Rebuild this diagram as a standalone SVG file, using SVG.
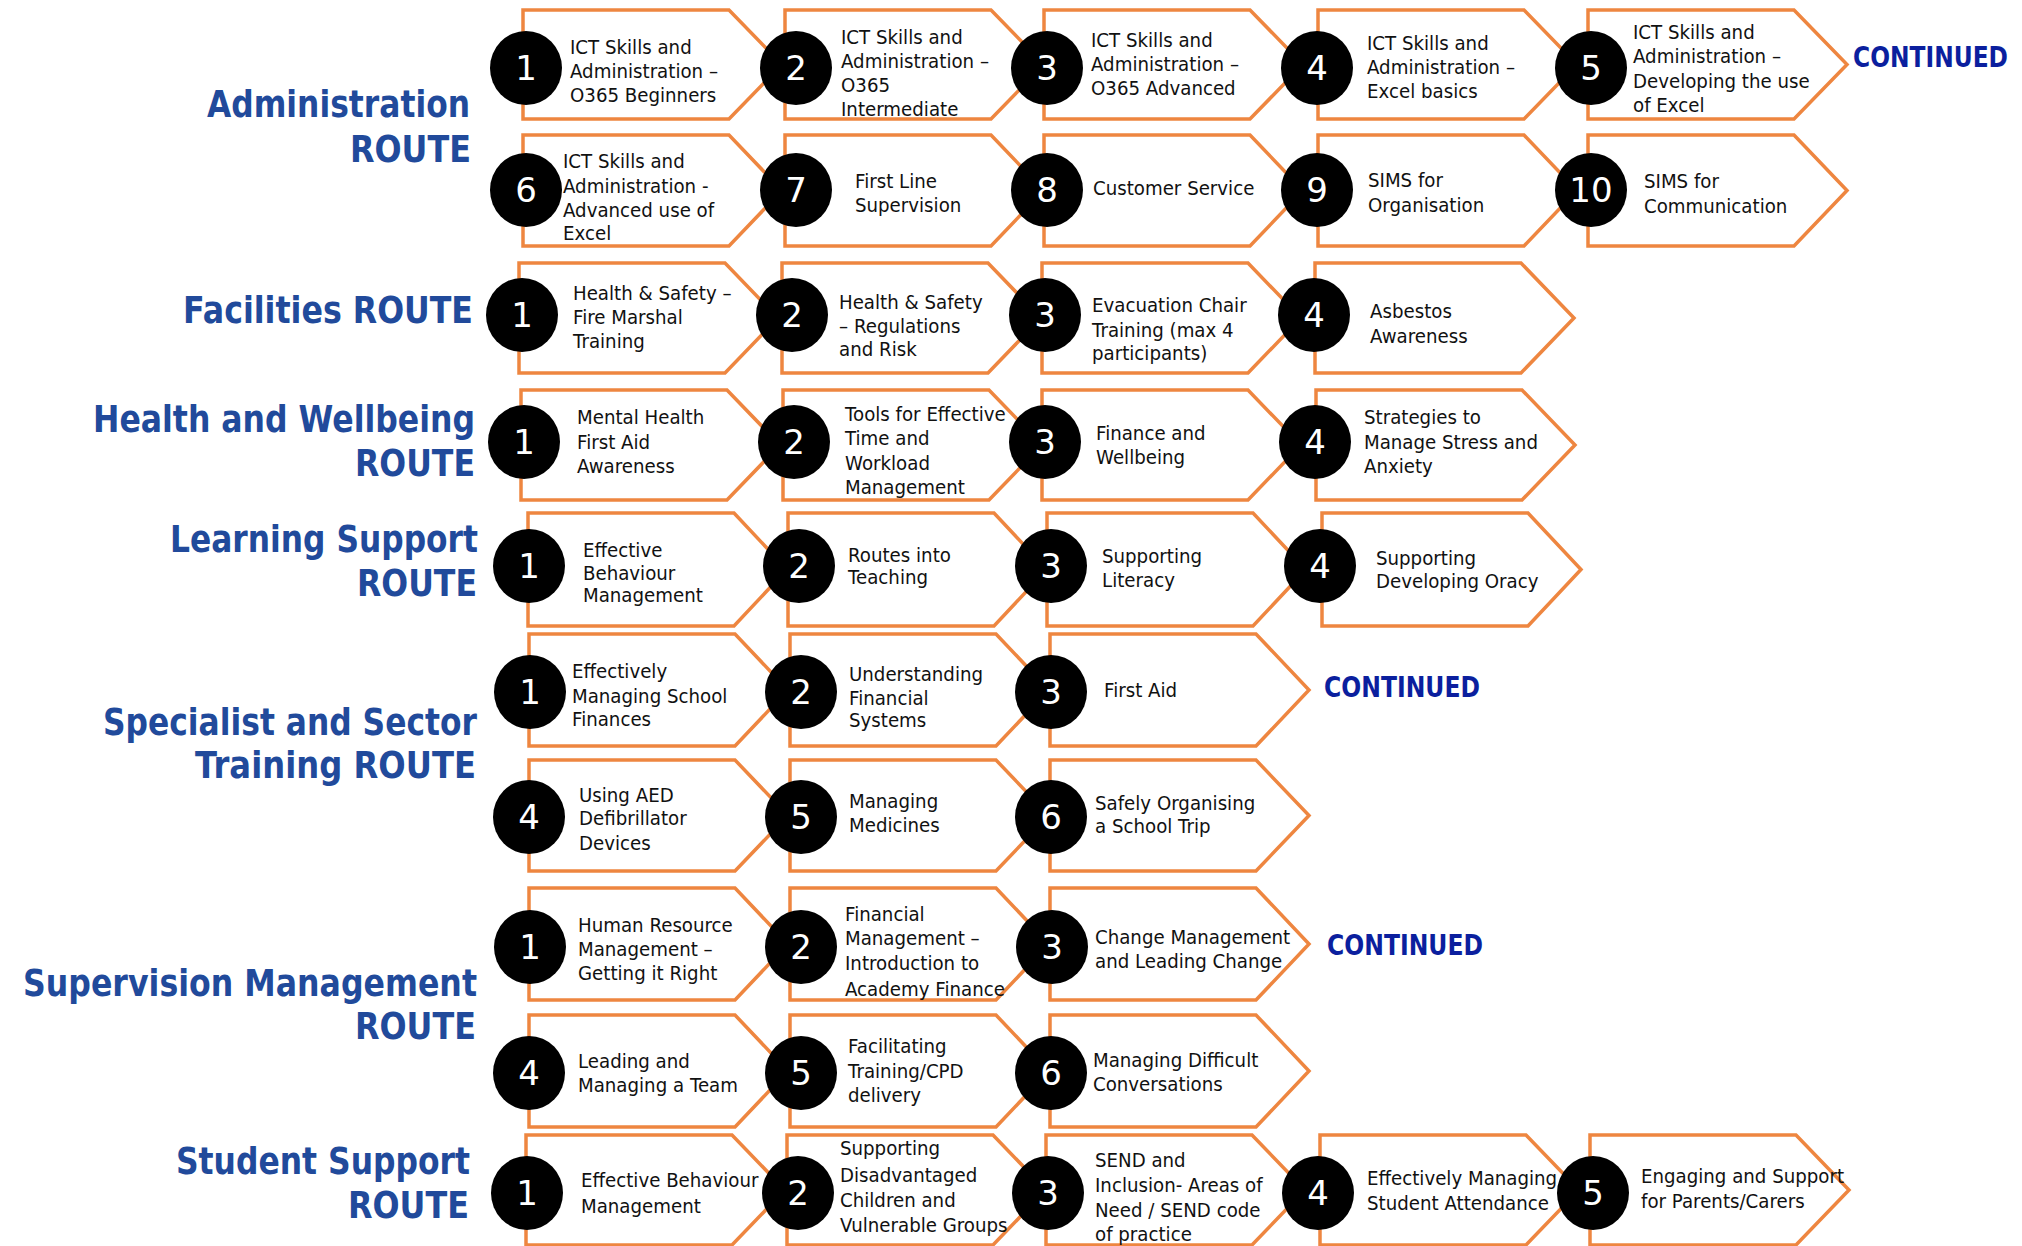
<svg xmlns="http://www.w3.org/2000/svg" width="2022" height="1246" viewBox="0 0 2022 1246">
<style>
.ch{fill:#fff;stroke:#EE8640;stroke-width:3.5;stroke-linejoin:miter}
.c{fill:#000}
.n{font-family:"DejaVu Sans","Liberation Sans",sans-serif;font-size:34px;fill:#fff;text-anchor:middle}
.t{font-family:"DejaVu Sans","Liberation Sans",sans-serif;font-size:20px;fill:#111}
.lb{font-family:"DejaVu Sans","Liberation Sans",sans-serif;font-weight:bold;font-size:37px;fill:#214A9B}
.ct{font-family:"DejaVu Sans","Liberation Sans",sans-serif;font-weight:bold;font-size:28px;fill:#0B1F9E}
</style>
<rect width="2022" height="1246" fill="#fff"/>
<g id="labels">
<text class="lb" transform="translate(207 0) scale(.86 1)" x="0" y="117" textLength="305.8" lengthAdjust="spacingAndGlyphs">Administration</text>
<text class="lb" transform="translate(350 0) scale(.86 1)" x="0" y="162" textLength="140.7" lengthAdjust="spacingAndGlyphs">ROUTE</text>
<text class="lb" transform="translate(183 0) scale(.86 1)" x="0" y="323" textLength="337.2" lengthAdjust="spacingAndGlyphs">Facilities ROUTE</text>
<text class="lb" transform="translate(93 0) scale(.86 1)" x="0" y="432" textLength="444.2" lengthAdjust="spacingAndGlyphs">Health and Wellbeing</text>
<text class="lb" transform="translate(355 0) scale(.86 1)" x="0" y="476" textLength="139.5" lengthAdjust="spacingAndGlyphs">ROUTE</text>
<text class="lb" transform="translate(170 0) scale(.86 1)" x="0" y="552" textLength="358.1" lengthAdjust="spacingAndGlyphs">Learning Support</text>
<text class="lb" transform="translate(357 0) scale(.86 1)" x="0" y="596" textLength="139.5" lengthAdjust="spacingAndGlyphs">ROUTE</text>
<text class="lb" transform="translate(103 0) scale(.86 1)" x="0" y="735" textLength="434.9" lengthAdjust="spacingAndGlyphs">Specialist and Sector</text>
<text class="lb" transform="translate(195 0) scale(.86 1)" x="0" y="778" textLength="326.7" lengthAdjust="spacingAndGlyphs">Training ROUTE</text>
<text class="lb" transform="translate(23 0) scale(.86 1)" x="0" y="996" textLength="527.9" lengthAdjust="spacingAndGlyphs">Supervision Management</text>
<text class="lb" transform="translate(355 0) scale(.86 1)" x="0" y="1039" textLength="140.7" lengthAdjust="spacingAndGlyphs">ROUTE</text>
<text class="lb" transform="translate(176 0) scale(.86 1)" x="0" y="1174" textLength="341.9" lengthAdjust="spacingAndGlyphs">Student Support</text>
<text class="lb" transform="translate(348 0) scale(.86 1)" x="0" y="1218" textLength="140.7" lengthAdjust="spacingAndGlyphs">ROUTE</text>
<text class="ct" transform="translate(1853 0) scale(.84 1)" x="0" y="67" textLength="184.5" lengthAdjust="spacingAndGlyphs">CONTINUED</text>
<text class="ct" transform="translate(1324 0) scale(.84 1)" x="0" y="697" textLength="185.7" lengthAdjust="spacingAndGlyphs">CONTINUED</text>
<text class="ct" transform="translate(1327 0) scale(.84 1)" x="0" y="955" textLength="185.7" lengthAdjust="spacingAndGlyphs">CONTINUED</text>
</g>
<g id="connectors"></g>

<!-- Administration row 1 -->
<g id="admin-1"><polygon class="ch" points="523,10 729,10 782,64.5 729,119 523,119"/><ellipse class="c" cx="526" cy="68" rx="36" ry="37"/><text class="n" x="526" y="80">1</text>
<text class="t" transform="translate(570 0) scale(.91 1)"><tspan x="0" y="54">ICT Skills and</tspan><tspan x="0" y="78">Administration –</tspan><tspan x="0" y="102">O365 Beginners</tspan></text></g>
<g id="admin-2"><polygon class="ch" points="785,10 991,10 1044,64.5 991,119 785,119"/><ellipse class="c" cx="796" cy="68" rx="36" ry="37"/><text class="n" x="796" y="80">2</text>
<text class="t" transform="translate(841 0) scale(.91 1)"><tspan x="0" y="44">ICT Skills and</tspan><tspan x="0" y="68">Administration –</tspan><tspan x="0" y="92">O365</tspan><tspan x="0" y="116">Intermediate</tspan></text></g>
<g id="admin-3"><polygon class="ch" points="1044,10 1250,10 1303,64.5 1250,119 1044,119"/><ellipse class="c" cx="1047" cy="68" rx="36" ry="37"/><text class="n" x="1047" y="80">3</text>
<text class="t" transform="translate(1091 0) scale(.91 1)"><tspan x="0" y="47">ICT Skills and</tspan><tspan x="0" y="71">Administration –</tspan><tspan x="0" y="95">O365 Advanced</tspan></text></g>
<g id="admin-4"><polygon class="ch" points="1318,10 1524,10 1577,64.5 1524,119 1318,119"/><ellipse class="c" cx="1317" cy="68" rx="36" ry="37"/><text class="n" x="1317" y="80">4</text>
<text class="t" transform="translate(1367 0) scale(.91 1)"><tspan x="0" y="50">ICT Skills and</tspan><tspan x="0" y="74">Administration –</tspan><tspan x="0" y="98">Excel basics</tspan></text></g>
<g id="admin-5"><polygon class="ch" points="1588,10 1794,10 1847,64.5 1794,119 1588,119"/><ellipse class="c" cx="1591" cy="68" rx="36" ry="37"/><text class="n" x="1591" y="80">5</text>
<text class="t" transform="translate(1633 0) scale(.91 1)"><tspan x="0" y="39">ICT Skills and</tspan><tspan x="0" y="63">Administration –</tspan><tspan x="0" y="88">Developing the use</tspan><tspan x="0" y="112">of Excel</tspan></text></g>

<!-- Administration row 2 -->
<g id="admin-6"><polygon class="ch" points="523,135 729,135 782,190.5 729,246 523,246"/><ellipse class="c" cx="526" cy="190" rx="36" ry="37"/><text class="n" x="526" y="202">6</text>
<text class="t" transform="translate(563 0) scale(.91 1)"><tspan x="0" y="168">ICT Skills and</tspan><tspan x="0" y="193">Administration -</tspan><tspan x="0" y="217">Advanced use of</tspan><tspan x="0" y="240">Excel</tspan></text></g>
<g id="admin-7"><polygon class="ch" points="785,135 991,135 1044,190.5 991,246 785,246"/><ellipse class="c" cx="796" cy="190" rx="36" ry="37"/><text class="n" x="796" y="202">7</text>
<text class="t" transform="translate(855 0) scale(.91 1)"><tspan x="0" y="188">First Line</tspan><tspan x="0" y="212">Supervision</tspan></text></g>
<g id="admin-8"><polygon class="ch" points="1044,135 1250,135 1303,190.5 1250,246 1044,246"/><ellipse class="c" cx="1047" cy="190" rx="36" ry="37"/><text class="n" x="1047" y="202">8</text>
<text class="t" transform="translate(1093 0) scale(.91 1)"><tspan x="0" y="195">Customer Service</tspan></text></g>
<g id="admin-9"><polygon class="ch" points="1318,135 1524,135 1577,190.5 1524,246 1318,246"/><ellipse class="c" cx="1317" cy="190" rx="36" ry="37"/><text class="n" x="1317" y="202">9</text>
<text class="t" transform="translate(1368 0) scale(.91 1)"><tspan x="0" y="187">SIMS for</tspan><tspan x="0" y="212">Organisation</tspan></text></g>
<g id="admin-10"><polygon class="ch" points="1588,135 1794,135 1847,190.5 1794,246 1588,246"/><ellipse class="c" cx="1591" cy="190" rx="36" ry="37"/><text class="n" x="1591" y="202">10</text>
<text class="t" transform="translate(1644 0) scale(.91 1)"><tspan x="0" y="188">SIMS for</tspan><tspan x="0" y="213">Communication</tspan></text></g>

<!-- Facilities -->
<g id="fac-1"><polygon class="ch" points="519,263 725,263 778,318 725,373 519,373"/><ellipse class="c" cx="522" cy="315" rx="36" ry="37"/><text class="n" x="522" y="327">1</text>
<text class="t" transform="translate(573 0) scale(.91 1)"><tspan x="0" y="300">Health &amp; Safety –</tspan><tspan x="0" y="324">Fire Marshal</tspan><tspan x="0" y="348">Training</tspan></text></g>
<g id="fac-2"><polygon class="ch" points="782,263 988,263 1041,318 988,373 782,373"/><ellipse class="c" cx="792" cy="315" rx="36" ry="37"/><text class="n" x="792" y="327">2</text>
<text class="t" transform="translate(839 0) scale(.91 1)"><tspan x="0" y="309">Health &amp; Safety</tspan><tspan x="0" y="333">– Regulations</tspan><tspan x="0" y="356">and Risk</tspan></text></g>
<g id="fac-3"><polygon class="ch" points="1042,263 1248,263 1301,318 1248,373 1042,373"/><ellipse class="c" cx="1045" cy="315" rx="36" ry="37"/><text class="n" x="1045" y="327">3</text>
<text class="t" transform="translate(1092 0) scale(.91 1)"><tspan x="0" y="312">Evacuation Chair</tspan><tspan x="0" y="337">Training (max 4</tspan><tspan x="0" y="360">participants)</tspan></text></g>
<g id="fac-4"><polygon class="ch" points="1315,263 1521,263 1574,318 1521,373 1315,373"/><ellipse class="c" cx="1314" cy="315" rx="36" ry="37"/><text class="n" x="1314" y="327">4</text>
<text class="t" transform="translate(1370 0) scale(.91 1)"><tspan x="0" y="318">Asbestos</tspan><tspan x="0" y="343">Awareness</tspan></text></g>

<!-- Health and Wellbeing -->
<g id="hw-1"><polygon class="ch" points="521,390 727,390 780,445 727,500 521,500"/><ellipse class="c" cx="524" cy="442" rx="36" ry="37"/><text class="n" x="524" y="454">1</text>
<text class="t" transform="translate(577 0) scale(.91 1)"><tspan x="0" y="424">Mental Health</tspan><tspan x="0" y="449">First Aid</tspan><tspan x="0" y="473">Awareness</tspan></text></g>
<g id="hw-2"><polygon class="ch" points="783,390 989,390 1042,445 989,500 783,500"/><ellipse class="c" cx="794" cy="442" rx="36" ry="37"/><text class="n" x="794" y="454">2</text>
<text class="t" transform="translate(845 0) scale(.91 1)"><tspan x="0" y="421">Tools for Effective</tspan><tspan x="0" y="445">Time and</tspan><tspan x="0" y="470">Workload</tspan><tspan x="0" y="494">Management</tspan></text></g>
<g id="hw-3"><polygon class="ch" points="1042,390 1248,390 1301,445 1248,500 1042,500"/><ellipse class="c" cx="1045" cy="442" rx="36" ry="37"/><text class="n" x="1045" y="454">3</text>
<text class="t" transform="translate(1096 0) scale(.91 1)"><tspan x="0" y="440">Finance and</tspan><tspan x="0" y="464">Wellbeing</tspan></text></g>
<g id="hw-4"><polygon class="ch" points="1316,390 1522,390 1575,445 1522,500 1316,500"/><ellipse class="c" cx="1315" cy="442" rx="36" ry="37"/><text class="n" x="1315" y="454">4</text>
<text class="t" transform="translate(1364 0) scale(.91 1)"><tspan x="0" y="424">Strategies to</tspan><tspan x="0" y="449">Manage Stress and</tspan><tspan x="0" y="473">Anxiety</tspan></text></g>

<!-- Learning Support -->
<g id="ls-1"><polygon class="ch" points="528,513 734,513 787,569.5 734,626 528,626"/><ellipse class="c" cx="529" cy="566" rx="36" ry="37"/><text class="n" x="529" y="578">1</text>
<text class="t" transform="translate(583 0) scale(.91 1)"><tspan x="0" y="557">Effective</tspan><tspan x="0" y="580">Behaviour</tspan><tspan x="0" y="602">Management</tspan></text></g>
<g id="ls-2"><polygon class="ch" points="788,513 994,513 1047,569.5 994,626 788,626"/><ellipse class="c" cx="799" cy="566" rx="36" ry="37"/><text class="n" x="799" y="578">2</text>
<text class="t" transform="translate(848 0) scale(.91 1)"><tspan x="0" y="562">Routes into</tspan><tspan x="0" y="584">Teaching</tspan></text></g>
<g id="ls-3"><polygon class="ch" points="1047,513 1253,513 1306,569.5 1253,626 1047,626"/><ellipse class="c" cx="1051" cy="566" rx="36" ry="37"/><text class="n" x="1051" y="578">3</text>
<text class="t" transform="translate(1102 0) scale(.91 1)"><tspan x="0" y="563">Supporting</tspan><tspan x="0" y="587">Literacy</tspan></text></g>
<g id="ls-4"><polygon class="ch" points="1322,513 1528,513 1581,569.5 1528,626 1322,626"/><ellipse class="c" cx="1320" cy="566" rx="36" ry="37"/><text class="n" x="1320" y="578">4</text>
<text class="t" transform="translate(1376 0) scale(.91 1)"><tspan x="0" y="565">Supporting</tspan><tspan x="0" y="588">Developing Oracy</tspan></text></g>

<!-- Specialist and Sector Training -->
<g id="sp-1"><polygon class="ch" points="529,634 735,634 788,690 735,746 529,746"/><ellipse class="c" cx="530" cy="692" rx="36" ry="37"/><text class="n" x="530" y="704">1</text>
<text class="t" transform="translate(572 0) scale(.91 1)"><tspan x="0" y="678">Effectively</tspan><tspan x="0" y="703">Managing School</tspan><tspan x="0" y="726">Finances</tspan></text></g>
<g id="sp-2"><polygon class="ch" points="790,634 996,634 1049,690 996,746 790,746"/><ellipse class="c" cx="801" cy="692" rx="36" ry="37"/><text class="n" x="801" y="704">2</text>
<text class="t" transform="translate(849 0) scale(.91 1)"><tspan x="0" y="681">Understanding</tspan><tspan x="0" y="705">Financial</tspan><tspan x="0" y="727">Systems</tspan></text></g>
<g id="sp-3"><polygon class="ch" points="1050,634 1256,634 1309,690 1256,746 1050,746"/><ellipse class="c" cx="1051" cy="692" rx="36" ry="37"/><text class="n" x="1051" y="704">3</text>
<text class="t" transform="translate(1104 0) scale(.91 1)"><tspan x="0" y="697">First Aid</tspan></text></g>
<g id="sp-4"><polygon class="ch" points="529,760 735,760 788,815.5 735,871 529,871"/><ellipse class="c" cx="529" cy="817" rx="36" ry="37"/><text class="n" x="529" y="829">4</text>
<text class="t" transform="translate(579 0) scale(.91 1)"><tspan x="0" y="802">Using AED</tspan><tspan x="0" y="825">Defibrillator</tspan><tspan x="0" y="850">Devices</tspan></text></g>
<g id="sp-5"><polygon class="ch" points="790,760 996,760 1049,815.5 996,871 790,871"/><ellipse class="c" cx="801" cy="817" rx="36" ry="37"/><text class="n" x="801" y="829">5</text>
<text class="t" transform="translate(849 0) scale(.91 1)"><tspan x="0" y="808">Managing</tspan><tspan x="0" y="832">Medicines</tspan></text></g>
<g id="sp-6"><polygon class="ch" points="1050,760 1256,760 1309,815.5 1256,871 1050,871"/><ellipse class="c" cx="1051" cy="817" rx="36" ry="37"/><text class="n" x="1051" y="829">6</text>
<text class="t" transform="translate(1095 0) scale(.91 1)"><tspan x="0" y="810">Safely Organising</tspan><tspan x="0" y="833">a School Trip</tspan></text></g>

<!-- Supervision Management -->
<g id="sv-1"><polygon class="ch" points="529,888 735,888 788,944 735,1000 529,1000"/><ellipse class="c" cx="530" cy="947" rx="36" ry="37"/><text class="n" x="530" y="959">1</text>
<text class="t" transform="translate(578 0) scale(.91 1)"><tspan x="0" y="932">Human Resource</tspan><tspan x="0" y="956">Management –</tspan><tspan x="0" y="980">Getting it Right</tspan></text></g>
<g id="sv-2"><polygon class="ch" points="790,888 996,888 1049,944 996,1000 790,1000"/><ellipse class="c" cx="801" cy="947" rx="36" ry="37"/><text class="n" x="801" y="959">2</text>
<text class="t" transform="translate(845 0) scale(.91 1)"><tspan x="0" y="921">Financial</tspan><tspan x="0" y="945">Management –</tspan><tspan x="0" y="970">Introduction to</tspan><tspan x="0" y="996">Academy Finance</tspan></text></g>
<g id="sv-3"><polygon class="ch" points="1050,888 1256,888 1309,944 1256,1000 1050,1000"/><ellipse class="c" cx="1052" cy="947" rx="36" ry="37"/><text class="n" x="1052" y="959">3</text>
<text class="t" transform="translate(1095 0) scale(.91 1)"><tspan x="0" y="944">Change Management</tspan><tspan x="0" y="968">and Leading Change</tspan></text></g>
<g id="sv-4"><polygon class="ch" points="529,1015 735,1015 788,1071 735,1127 529,1127"/><ellipse class="c" cx="529" cy="1073" rx="36" ry="37"/><text class="n" x="529" y="1085">4</text>
<text class="t" transform="translate(578 0) scale(.91 1)"><tspan x="0" y="1068">Leading and</tspan><tspan x="0" y="1092">Managing a Team</tspan></text></g>
<g id="sv-5"><polygon class="ch" points="790,1015 996,1015 1049,1071 996,1127 790,1127"/><ellipse class="c" cx="801" cy="1073" rx="36" ry="37"/><text class="n" x="801" y="1085">5</text>
<text class="t" transform="translate(848 0) scale(.91 1)"><tspan x="0" y="1053">Facilitating</tspan><tspan x="0" y="1078">Training/CPD</tspan><tspan x="0" y="1102">delivery</tspan></text></g>
<g id="sv-6"><polygon class="ch" points="1050,1015 1256,1015 1309,1071 1256,1127 1050,1127"/><ellipse class="c" cx="1051" cy="1073" rx="36" ry="37"/><text class="n" x="1051" y="1085">6</text>
<text class="t" transform="translate(1093 0) scale(.91 1)"><tspan x="0" y="1067">Managing Difficult</tspan><tspan x="0" y="1091">Conversations</tspan></text></g>

<!-- Student Support -->
<g id="ss-1"><polygon class="ch" points="526,1135 732,1135 785,1190 732,1245 526,1245"/><ellipse class="c" cx="527" cy="1193" rx="36" ry="37"/><text class="n" x="527" y="1205">1</text>
<text class="t" transform="translate(581 0) scale(.91 1)"><tspan x="0" y="1187">Effective Behaviour</tspan><tspan x="0" y="1213">Management</tspan></text></g>
<g id="ss-2"><polygon class="ch" points="787,1135 993,1135 1046,1190 993,1245 787,1245"/><ellipse class="c" cx="798" cy="1193" rx="36" ry="37"/><text class="n" x="798" y="1205">2</text>
<text class="t" transform="translate(840 0) scale(.91 1)"><tspan x="0" y="1155">Supporting</tspan><tspan x="0" y="1182">Disadvantaged</tspan><tspan x="0" y="1207">Children and</tspan><tspan x="0" y="1232">Vulnerable Groups</tspan></text></g>
<g id="ss-3"><polygon class="ch" points="1046,1135 1252,1135 1305,1190 1252,1245 1046,1245"/><ellipse class="c" cx="1048" cy="1193" rx="36" ry="37"/><text class="n" x="1048" y="1205">3</text>
<text class="t" transform="translate(1095 0) scale(.91 1)"><tspan x="0" y="1167">SEND and</tspan><tspan x="0" y="1192">Inclusion- Areas of</tspan><tspan x="0" y="1217">Need / SEND code</tspan><tspan x="0" y="1241">of practice</tspan></text></g>
<g id="ss-4"><polygon class="ch" points="1320,1135 1526,1135 1579,1190 1526,1245 1320,1245"/><ellipse class="c" cx="1318" cy="1193" rx="36" ry="37"/><text class="n" x="1318" y="1205">4</text>
<text class="t" transform="translate(1367 0) scale(.91 1)"><tspan x="0" y="1185">Effectively Managing</tspan><tspan x="0" y="1210">Student Attendance</tspan></text></g>
<g id="ss-5"><polygon class="ch" points="1590,1135 1796,1135 1849,1190 1796,1245 1590,1245"/><ellipse class="c" cx="1593" cy="1193" rx="36" ry="37"/><text class="n" x="1593" y="1205">5</text>
<text class="t" transform="translate(1641 0) scale(.91 1)"><tspan x="0" y="1183">Engaging and Support</tspan><tspan x="0" y="1208">for Parents/Carers</tspan></text></g>
</svg>
